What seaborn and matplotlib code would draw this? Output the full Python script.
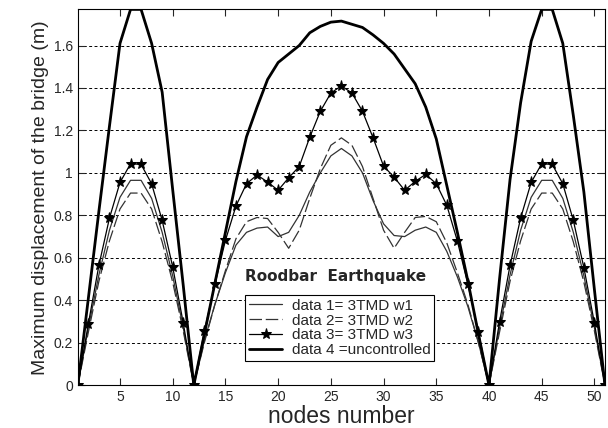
import matplotlib
matplotlib.use("Agg")
import matplotlib.pyplot as plt
import seaborn as sns
import pandas as pd

nodes = list(range(1, 52))

# data 1 = 3TMD w1 (thin solid)
data1 = [0, 0.27, 0.52, 0.73, 0.885, 0.965, 0.965, 0.88, 0.72, 0.515, 0.27, 0,
         0.21, 0.38, 0.53, 0.66, 0.72, 0.74, 0.745, 0.70, 0.72, 0.80,
         0.91, 1.00, 1.08, 1.115, 1.08, 1.00, 0.87, 0.76, 0.705, 0.70,
         0.73, 0.745, 0.72, 0.63, 0.51, 0.37, 0.20, 0,
         0.27, 0.52, 0.73, 0.885, 0.965, 0.965, 0.88, 0.72, 0.515, 0.27, 0]
# data 2 = 3TMD w2 (thin dashed)
data2 = [0, 0.25, 0.49, 0.68, 0.83, 0.905, 0.905, 0.83, 0.675, 0.485, 0.255, 0,
         0.20, 0.38, 0.54, 0.69, 0.77, 0.79, 0.785, 0.72, 0.645, 0.73,
         0.88, 1.02, 1.13, 1.165, 1.13, 1.03, 0.88, 0.73, 0.645, 0.72,
         0.79, 0.795, 0.77, 0.67, 0.53, 0.38, 0.20, 0,
         0.25, 0.49, 0.68, 0.83, 0.905, 0.905, 0.83, 0.675, 0.485, 0.255, 0]
# data 3 = 3TMD w3 (stars)
data3 = [0, 0.29, 0.565, 0.787, 0.955, 1.043, 1.04, 0.949, 0.776, 0.557, 0.293, 0,
         0.254, 0.475, 0.682, 0.844, 0.949, 0.99, 0.957, 0.918, 0.977, 1.03,
         1.168, 1.29, 1.376, 1.41, 1.376, 1.29, 1.166, 1.032, 0.98, 0.918,
         0.96, 0.993, 0.949, 0.847, 0.679, 0.475, 0.251, 0,
         0.298, 0.565, 0.787, 0.955, 1.043, 1.04, 0.949, 0.776, 0.554, 0.293, 0]
# data 4 = uncontrolled (thick)
data4 = [0, 0.41, 0.82, 1.22, 1.61, 1.77, 1.77, 1.61, 1.38, 0.92, 0.47, 0,
         0.24, 0.48, 0.72, 0.96, 1.17, 1.31, 1.44, 1.52, 1.56, 1.60,
         1.66, 1.69, 1.71, 1.715, 1.70, 1.685, 1.65, 1.61, 1.56, 1.49,
         1.42, 1.31, 1.16, 0.94, 0.72, 0.49, 0.24, 0,
         0.50, 0.97, 1.33, 1.62, 1.77, 1.77, 1.61, 1.27, 0.91, 0.45, 0]

labels = ["data 1= 3TMD w1", "data 2= 3TMD w2", "data 3= 3TMD w3", "data 4 =uncontrolled"]
xticks = [5, 10, 15, 20, 25, 30, 35, 40, 45, 50]
yticks = [0, 0.2, 0.4, 0.6, 0.8, 1.0, 1.2, 1.4, 1.6]
ytick_labels = ["0", "0.2", "0.4", "0.6", "0.8", "1", "1.2", "1.4", "1.6"]

df = pd.DataFrame({"node": nodes, "d1": data1, "d2": data2, "d3": data3, "d4": data4})

sns.set_style("ticks")
plt.rcParams["font.family"] = ["Liberation Sans", "DejaVu Sans"]

fig = plt.figure(figsize=(6.08, 4.28), dpi=100)
ax = fig.add_axes([0.128, 0.1, 0.867, 0.878])

sns.lineplot(data=df, x="node", y="d1", ax=ax, color="#333333", lw=0.9, label=labels[0])
sns.lineplot(data=df, x="node", y="d2", ax=ax, color="#333333", lw=0.9,
             ls=(0, (10, 3)), label=labels[1])
sns.lineplot(data=df, x="node", y="d3", ax=ax, color="black", lw=0.9, marker="*",
             markersize=8, markeredgecolor="black", label=labels[2])
sns.lineplot(data=df, x="node", y="d4", ax=ax, color="black", lw=2.0, label=labels[3])

ax.set_xlim(1, 51)
ax.set_ylim(0, 1.77)
ax.set_xticks(xticks)
ax.set_xticklabels([str(t) for t in xticks], fontsize=10)
ax.set_yticks(yticks)
ax.set_yticklabels(ytick_labels, fontsize=10)
ax.tick_params(direction="in", length=5, top=True, right=True, width=0.8)
for s in ax.spines.values():
    s.set_linewidth(0.8)
    s.set_color("black")

ax.yaxis.grid(True, color="black", ls=(0, (3, 2.5)), lw=0.7)
ax.set_axisbelow(True)

ax.set_xlabel("nodes number", fontsize=16.5, labelpad=1)
ax.set_ylabel("Maximum displacement of the bridge (m)", fontsize=14, labelpad=3)

ax.text(16.9, 0.51, "Roodbar  Earthquake", fontsize=11, fontweight="bold",
        family="DejaVu Sans", va="center", ha="left")

leg = ax.legend(loc="upper left", bbox_to_anchor=(0.317, 0.24), fontsize=11, frameon=True,
                fancybox=False, framealpha=1, edgecolor="black", handlelength=2.2,
                borderpad=0.25, labelspacing=0.05, handletextpad=0.6, borderaxespad=0)
leg.get_frame().set_linewidth(0.8)

fig.savefig("out.png", dpi=100)
